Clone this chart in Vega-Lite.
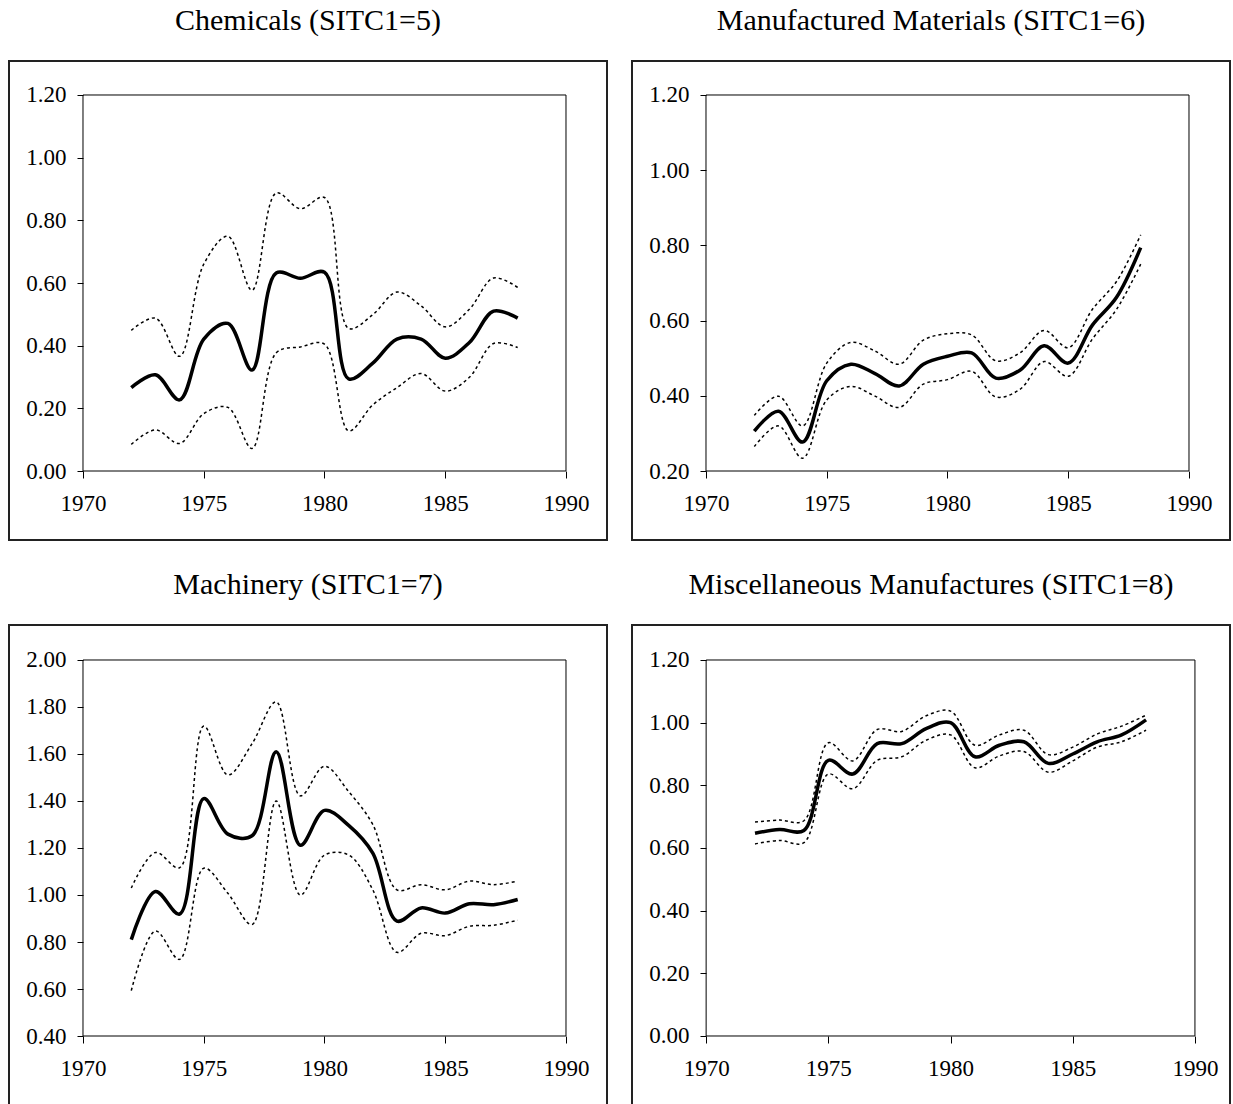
{
  "$schema": "https://vega.github.io/schema/vega-lite/v6.json",
  "background": "white",
  "padding": {"left": 8, "top": 5, "right": 0, "bottom": 0},
  "bounds": "flush",
  "columns": 2,
  "spacing": {"row": 85, "column": 25},
  "config": {
    "view": {"stroke": "#222", "strokeWidth": 2},
    "font": "Liberation Serif",
    "title": {"font": "Liberation Serif", "fontSize": 30, "fontWeight": "normal", "color": "black", "anchor": "middle", "baseline": "alphabetic", "offset": 25},
    "axis": {"labelFont": "Liberation Serif", "labelFontSize": 23, "labelColor": "black", "tickColor": "black", "domain": false, "grid": false, "title": null, "labelFlush": false, "labelOverlap": false},
    "axisX": {"tickSize": 7, "labelPadding": 14},
    "axisY": {"tickSize": 6, "labelPadding": 11}
  },
  "datasets": {
    "chem": [
      {"year": 1972, "est": 0.266, "upper": 0.449, "lower": 0.085},
      {"year": 1973, "est": 0.307, "upper": 0.488, "lower": 0.131},
      {"year": 1974, "est": 0.227, "upper": 0.366, "lower": 0.088},
      {"year": 1975, "est": 0.421, "upper": 0.66, "lower": 0.183},
      {"year": 1976, "est": 0.471, "upper": 0.749, "lower": 0.203},
      {"year": 1977, "est": 0.322, "upper": 0.577, "lower": 0.072},
      {"year": 1978, "est": 0.632, "upper": 0.887, "lower": 0.377},
      {"year": 1979, "est": 0.615, "upper": 0.837, "lower": 0.396},
      {"year": 1980, "est": 0.634, "upper": 0.873, "lower": 0.405},
      {"year": 1981, "est": 0.294, "upper": 0.455, "lower": 0.128},
      {"year": 1982, "est": 0.344, "upper": 0.499, "lower": 0.211},
      {"year": 1983, "est": 0.421, "upper": 0.571, "lower": 0.266},
      {"year": 1984, "est": 0.421, "upper": 0.527, "lower": 0.311},
      {"year": 1985, "est": 0.36, "upper": 0.46, "lower": 0.255},
      {"year": 1986, "est": 0.41, "upper": 0.516, "lower": 0.299},
      {"year": 1987, "est": 0.51, "upper": 0.616, "lower": 0.407},
      {"year": 1988, "est": 0.488, "upper": 0.586, "lower": 0.394}
    ],
    "manu": [
      {"year": 1972, "est": 0.306, "upper": 0.348, "lower": 0.265},
      {"year": 1973, "est": 0.359, "upper": 0.399, "lower": 0.32},
      {"year": 1974, "est": 0.277, "upper": 0.32, "lower": 0.234},
      {"year": 1975, "est": 0.44, "upper": 0.487, "lower": 0.389},
      {"year": 1976, "est": 0.484, "upper": 0.542, "lower": 0.425},
      {"year": 1977, "est": 0.459, "upper": 0.519, "lower": 0.399},
      {"year": 1978, "est": 0.426, "upper": 0.484, "lower": 0.369},
      {"year": 1979, "est": 0.484, "upper": 0.548, "lower": 0.431},
      {"year": 1980, "est": 0.505, "upper": 0.565, "lower": 0.443},
      {"year": 1981, "est": 0.514, "upper": 0.562, "lower": 0.465},
      {"year": 1982, "est": 0.447, "upper": 0.493, "lower": 0.397},
      {"year": 1983, "est": 0.468, "upper": 0.514, "lower": 0.417},
      {"year": 1984, "est": 0.533, "upper": 0.574, "lower": 0.491},
      {"year": 1985, "est": 0.487, "upper": 0.528, "lower": 0.452},
      {"year": 1986, "est": 0.588, "upper": 0.63, "lower": 0.551},
      {"year": 1987, "est": 0.662, "upper": 0.704, "lower": 0.63},
      {"year": 1988, "est": 0.794, "upper": 0.828, "lower": 0.75}
    ],
    "mach": [
      {"year": 1972, "est": 0.81, "upper": 1.03, "lower": 0.593},
      {"year": 1973, "est": 1.015, "upper": 1.181, "lower": 0.847},
      {"year": 1974, "est": 0.919, "upper": 1.116, "lower": 0.726},
      {"year": 1975, "est": 1.41, "upper": 1.719, "lower": 1.114},
      {"year": 1976, "est": 1.259, "upper": 1.511, "lower": 1.007},
      {"year": 1977, "est": 1.252, "upper": 1.644, "lower": 0.874},
      {"year": 1978, "est": 1.61, "upper": 1.822, "lower": 1.4},
      {"year": 1979, "est": 1.212, "upper": 1.422, "lower": 1.0},
      {"year": 1980, "est": 1.36, "upper": 1.548, "lower": 1.17},
      {"year": 1981, "est": 1.296, "upper": 1.44, "lower": 1.17},
      {"year": 1982, "est": 1.178, "upper": 1.3, "lower": 1.022},
      {"year": 1983, "est": 0.889, "upper": 1.022, "lower": 0.756},
      {"year": 1984, "est": 0.945, "upper": 1.044, "lower": 0.837},
      {"year": 1985, "est": 0.923, "upper": 1.022, "lower": 0.827},
      {"year": 1986, "est": 0.963, "upper": 1.059, "lower": 0.867},
      {"year": 1987, "est": 0.959, "upper": 1.044, "lower": 0.871},
      {"year": 1988, "est": 0.981, "upper": 1.059, "lower": 0.893}
    ],
    "misc": [
      {"year": 1972, "est": 0.647, "upper": 0.683, "lower": 0.613},
      {"year": 1973, "est": 0.659, "upper": 0.689, "lower": 0.624},
      {"year": 1974, "est": 0.656, "upper": 0.687, "lower": 0.617},
      {"year": 1975, "est": 0.88, "upper": 0.936, "lower": 0.836},
      {"year": 1976, "est": 0.836, "upper": 0.878, "lower": 0.789},
      {"year": 1977, "est": 0.933, "upper": 0.978, "lower": 0.88},
      {"year": 1978, "est": 0.933, "upper": 0.972, "lower": 0.891},
      {"year": 1979, "est": 0.981, "upper": 1.022, "lower": 0.944},
      {"year": 1980, "est": 1.0, "upper": 1.037, "lower": 0.961},
      {"year": 1981, "est": 0.891, "upper": 0.928, "lower": 0.856},
      {"year": 1982, "est": 0.928, "upper": 0.961, "lower": 0.894},
      {"year": 1983, "est": 0.939, "upper": 0.976, "lower": 0.908},
      {"year": 1984, "est": 0.87, "upper": 0.898, "lower": 0.842},
      {"year": 1985, "est": 0.9, "upper": 0.922, "lower": 0.878},
      {"year": 1986, "est": 0.939, "upper": 0.964, "lower": 0.922},
      {"year": 1987, "est": 0.961, "upper": 0.989, "lower": 0.939},
      {"year": 1988, "est": 1.009, "upper": 1.024, "lower": 0.976}
    ]
  },
  "concat": [
    {
      "title": "Chemicals (SITC1=5)",
      "width": 598, "height": 479,
      "data": {"name": "chem"},
      "layer": [
        {"data": {"values": [{}]}, "mark": {"type": "rect", "fill": null, "stroke": "black", "strokeWidth": 1},
         "encoding": {
           "x": {"datum": 1970, "type": "quantitative", "scale": {"domain": [1966.936, 1991.698], "nice": false, "zero": false}, "axis": {"values": [1970, 1975, 1980, 1985, 1990], "format": "d", "offset": -69}},
           "x2": {"datum": 1990},
           "y": {"datum": 0, "type": "quantitative", "scale": {"domain": [-0.2202, 1.3085], "nice": false, "zero": false}, "axis": {"values": [0, 0.2, 0.4, 0.6, 0.8, 1.0, 1.2], "format": ".2f", "offset": -74}},
           "y2": {"datum": 1.2}}},
        {"mark": {"type": "line", "interpolate": "catmull-rom", "color": "black", "strokeWidth": 1.5, "strokeDash": [3, 3]},
         "encoding": {"x": {"field": "year", "type": "quantitative", "title": null}, "y": {"field": "upper", "type": "quantitative", "title": null}}},
        {"mark": {"type": "line", "interpolate": "catmull-rom", "color": "black", "strokeWidth": 1.5, "strokeDash": [3, 3]},
         "encoding": {"x": {"field": "year", "type": "quantitative", "title": null}, "y": {"field": "lower", "type": "quantitative", "title": null}}},
        {"mark": {"type": "line", "interpolate": "catmull-rom", "color": "black", "strokeWidth": 3.5},
         "encoding": {"x": {"field": "year", "type": "quantitative", "title": null}, "y": {"field": "est", "type": "quantitative", "title": null}}}
      ]
    },
    {
      "title": "Manufactured Materials (SITC1=6)",
      "width": 598, "height": 479,
      "data": {"name": "manu"},
      "layer": [
        {"data": {"values": [{}]}, "mark": {"type": "rect", "fill": null, "stroke": "black", "strokeWidth": 1},
         "encoding": {
           "x": {"datum": 1970, "type": "quantitative", "scale": {"domain": [1966.936, 1991.698], "nice": false, "zero": false}, "axis": {"values": [1970, 1975, 1980, 1985, 1990], "format": "d", "offset": -69}},
           "x2": {"datum": 1990},
           "y": {"datum": 0.2, "type": "quantitative", "scale": {"domain": [0.0165, 1.2904], "nice": false, "zero": false}, "axis": {"values": [0.2, 0.4, 0.6, 0.8, 1.0, 1.2], "format": ".2f", "offset": -74}},
           "y2": {"datum": 1.2}}},
        {"mark": {"type": "line", "interpolate": "catmull-rom", "color": "black", "strokeWidth": 1.5, "strokeDash": [3, 3]},
         "encoding": {"x": {"field": "year", "type": "quantitative", "title": null}, "y": {"field": "upper", "type": "quantitative", "title": null}}},
        {"mark": {"type": "line", "interpolate": "catmull-rom", "color": "black", "strokeWidth": 1.5, "strokeDash": [3, 3]},
         "encoding": {"x": {"field": "year", "type": "quantitative", "title": null}, "y": {"field": "lower", "type": "quantitative", "title": null}}},
        {"mark": {"type": "line", "interpolate": "catmull-rom", "color": "black", "strokeWidth": 3.5},
         "encoding": {"x": {"field": "year", "type": "quantitative", "title": null}, "y": {"field": "est", "type": "quantitative", "title": null}}}
      ]
    },
    {
      "title": "Machinery (SITC1=7)",
      "width": 598, "height": 482,
      "data": {"name": "mach"},
      "layer": [
        {"data": {"values": [{}]}, "mark": {"type": "rect", "fill": null, "stroke": "black", "strokeWidth": 1},
         "encoding": {
           "x": {"datum": 1970, "type": "quantitative", "scale": {"domain": [1966.936, 1991.698], "nice": false, "zero": false}, "axis": {"values": [1970, 1975, 1980, 1985, 1990], "format": "d", "offset": -71}},
           "x2": {"datum": 1990},
           "y": {"datum": 0.4, "type": "quantitative", "scale": {"domain": [0.0979, 2.1489], "nice": false, "zero": false}, "axis": {"values": [0.4, 0.6, 0.8, 1.0, 1.2, 1.4, 1.6, 1.8, 2.0], "format": ".2f", "offset": -74}},
           "y2": {"datum": 2.0}}},
        {"mark": {"type": "line", "interpolate": "catmull-rom", "color": "black", "strokeWidth": 1.5, "strokeDash": [3, 3]},
         "encoding": {"x": {"field": "year", "type": "quantitative", "title": null}, "y": {"field": "upper", "type": "quantitative", "title": null}}},
        {"mark": {"type": "line", "interpolate": "catmull-rom", "color": "black", "strokeWidth": 1.5, "strokeDash": [3, 3]},
         "encoding": {"x": {"field": "year", "type": "quantitative", "title": null}, "y": {"field": "lower", "type": "quantitative", "title": null}}},
        {"mark": {"type": "line", "interpolate": "catmull-rom", "color": "black", "strokeWidth": 3.5},
         "encoding": {"x": {"field": "year", "type": "quantitative", "title": null}, "y": {"field": "est", "type": "quantitative", "title": null}}}
      ]
    },
    {
      "title": "Miscellaneous Manufactures (SITC1=8)",
      "width": 598, "height": 482,
      "data": {"name": "misc"},
      "layer": [
        {"data": {"values": [{}]}, "mark": {"type": "rect", "fill": null, "stroke": "black", "strokeWidth": 1},
         "encoding": {
           "x": {"datum": 1970, "type": "quantitative", "scale": {"domain": [1966.967, 1991.434], "nice": false, "zero": false}, "axis": {"values": [1970, 1975, 1980, 1985, 1990], "format": "d", "offset": -71}},
           "x2": {"datum": 1990},
           "y": {"datum": 0, "type": "quantitative", "scale": {"domain": [-0.2266, 1.3117], "nice": false, "zero": false}, "axis": {"values": [0, 0.2, 0.4, 0.6, 0.8, 1.0, 1.2], "format": ".2f", "offset": -74}},
           "y2": {"datum": 1.2}}},
        {"mark": {"type": "line", "interpolate": "catmull-rom", "color": "black", "strokeWidth": 1.5, "strokeDash": [3, 3]},
         "encoding": {"x": {"field": "year", "type": "quantitative", "title": null}, "y": {"field": "upper", "type": "quantitative", "title": null}}},
        {"mark": {"type": "line", "interpolate": "catmull-rom", "color": "black", "strokeWidth": 1.5, "strokeDash": [3, 3]},
         "encoding": {"x": {"field": "year", "type": "quantitative", "title": null}, "y": {"field": "lower", "type": "quantitative", "title": null}}},
        {"mark": {"type": "line", "interpolate": "catmull-rom", "color": "black", "strokeWidth": 3.5},
         "encoding": {"x": {"field": "year", "type": "quantitative", "title": null}, "y": {"field": "est", "type": "quantitative", "title": null}}}
      ]
    }
  ]
}
